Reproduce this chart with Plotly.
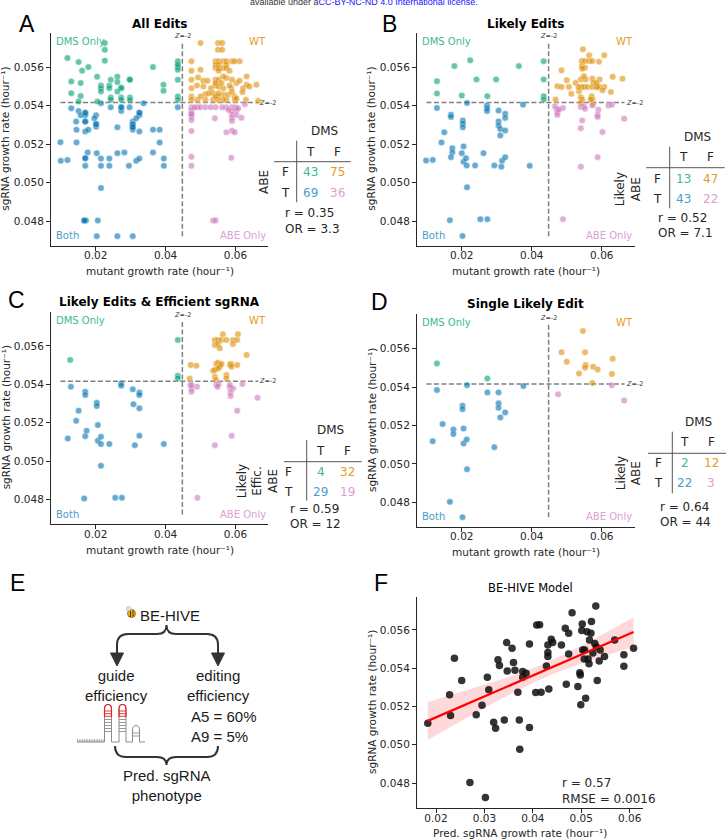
import numpy as np
import plotly.graph_objects as go

W, H = 726, 840

# seaborn "colorblind" colours
BLUE, ORANGE, GREEN, PINK = "#0173b2", "#de8f05", "#029e73", "#cc78bc"
BLUE_T, ORANGE_T, GREEN_T, PINK_T = "#4a9ccd", "#e59b26", "#3dba90", "#dba1d3"
INK = "#262626"
DJ = "DejaVu Sans"
LS = "Liberation Sans"

# ---- data, points are (mutant growth rate, sgRNA growth rate) ----
# A: all edits
a_dms = [(0.0226, 0.05725), (0.0226, 0.0569), (0.0119, 0.05647), (0.0151, 0.05626), (0.0226, 0.05633),
         (0.0179, 0.0560), (0.0161, 0.05581), (0.0364, 0.0560), (0.0435, 0.0563), (0.0435, 0.0560),
         (0.0435, 0.05586), (0.0204, 0.0555), (0.0130, 0.05525), (0.0157, 0.05517), (0.0243, 0.05534),
         (0.0262, 0.0555), (0.0262, 0.05522), (0.0297, 0.05536), (0.0298, 0.05534), (0.0215, 0.05504),
         (0.0215, 0.0549), (0.0239, 0.05504), (0.0273, 0.05494), (0.0273, 0.0549), (0.0130, 0.05464),
         (0.0157, 0.0545), (0.0215, 0.05473), (0.0262, 0.05473), (0.0243, 0.05442), (0.0273, 0.05442),
         (0.0298, 0.05442), (0.0243, 0.0543), (0.0273, 0.0543), (0.0298, 0.05428), (0.0394, 0.05508),
         (0.0394, 0.05477), (0.0435, 0.05534), (0.0435, 0.05447), (0.0435, 0.0543), (0.0151, 0.05421),
         (0.0239, 0.0549), (0.0205, 0.05421), (0.0435, 0.05612)]
a_both = [(0.0130, 0.05386), (0.0151, 0.05372), (0.0170, 0.05363), (0.0170, 0.0535), (0.0201, 0.0535),
          (0.0157, 0.0535), (0.0144, 0.05317), (0.0170, 0.05317), (0.0201, 0.05304), (0.0201, 0.0529),
          (0.0262, 0.05287), (0.0306, 0.05317), (0.0306, 0.05303), (0.0306, 0.05289), (0.0306, 0.05275),
          (0.0325, 0.05363), (0.0325, 0.0535), (0.0316, 0.05334), (0.0337, 0.05412), (0.0297, 0.05391),
          (0.0273, 0.05391), (0.0273, 0.05372), (0.0243, 0.05391), (0.0215, 0.05412), (0.0196, 0.05334),
          (0.0145, 0.05275), (0.0170, 0.05266), (0.0179, 0.05275), (0.0325, 0.05266), (0.0364, 0.05275),
          (0.0383, 0.05275), (0.0099, 0.0521), (0.0145, 0.05209), (0.0383, 0.05209), (0.0177, 0.05157),
          (0.0203, 0.05153), (0.0262, 0.05153), (0.0282, 0.05157), (0.0364, 0.05157), (0.0100, 0.05113),
          (0.0119, 0.05117), (0.0170, 0.05127), (0.0170, 0.05087), (0.0215, 0.05125), (0.0239, 0.05125),
          (0.0215, 0.05087), (0.0239, 0.05087), (0.0295, 0.05087), (0.0316, 0.05113), (0.0325, 0.05125),
          (0.0395, 0.05125), (0.0395, 0.05087), (0.0215, 0.04972), (0.0167, 0.04803), (0.0172, 0.04803),
          (0.0206, 0.04803), (0.0203, 0.04722), (0.0262, 0.04722), (0.0306, 0.04722), (0.0435, 0.05391),
          (0.0170, 0.05363), (0.0170, 0.05317), (0.0201, 0.05304), (0.0306, 0.05303), (0.0306, 0.05289),
          (0.0325, 0.05363), (0.0170, 0.05127), (0.0167, 0.04803), (0.0273, 0.05391)]
a_wt = [(0.0500, 0.05725), (0.0550, 0.05725), (0.0562, 0.05725), (0.0550, 0.0569), (0.0562, 0.0569),
        (0.0474, 0.0563), (0.0543, 0.0563), (0.0552, 0.0563), (0.0565, 0.0563), (0.0574, 0.0563),
        (0.0590, 0.0563), (0.0612, 0.0563), (0.0543, 0.05612), (0.0552, 0.05612), (0.0574, 0.05612),
        (0.0543, 0.05595), (0.0552, 0.05595), (0.0565, 0.05595), (0.0574, 0.05595), (0.0474, 0.05581),
        (0.0500, 0.05586), (0.0493, 0.05546), (0.0574, 0.05543), (0.0632, 0.05551), (0.0474, 0.05534),
        (0.0508, 0.05529), (0.0520, 0.05529), (0.0543, 0.05534), (0.0552, 0.05534), (0.0543, 0.05504),
        (0.0552, 0.05499), (0.0565, 0.0549), (0.0588, 0.0549), (0.0603, 0.05517), (0.0622, 0.0549),
        (0.0632, 0.05508), (0.0660, 0.05508), (0.0474, 0.0549), (0.0514, 0.05459), (0.0536, 0.05464),
        (0.0550, 0.05447), (0.0566, 0.05456), (0.0579, 0.05456), (0.0598, 0.05447), (0.0474, 0.05447),
        (0.0474, 0.0543), (0.0491, 0.0543), (0.0514, 0.0543), (0.0536, 0.0543), (0.0550, 0.0543),
        (0.0574, 0.0543), (0.0598, 0.0543), (0.0665, 0.05424), (0.0552, 0.05581), (0.0565, 0.05551),
        (0.0543, 0.05517), (0.0560, 0.05517), (0.0590, 0.05534), (0.0612, 0.05529), (0.0583, 0.05504),
        (0.0530, 0.0549), (0.0508, 0.05499), (0.0490, 0.05504), (0.0524, 0.05464), (0.0543, 0.05447),
        (0.0590, 0.0547), (0.0620, 0.0547), (0.0640, 0.05499), (0.0565, 0.0543), (0.0603, 0.05436),
        (0.0630, 0.0543), (0.0583, 0.05581), (0.0598, 0.0563), (0.0500, 0.05447), (0.0552, 0.05464)]
a_abe = [(0.0474, 0.05391), (0.0474, 0.05377), (0.0474, 0.0536), (0.0474, 0.05343), (0.0474, 0.05325),
         (0.0491, 0.05391), (0.0500, 0.05391), (0.0514, 0.05391), (0.0543, 0.05391), (0.0574, 0.05391),
         (0.0590, 0.05391), (0.0600, 0.05391), (0.0627, 0.05407), (0.0590, 0.05372), (0.0590, 0.05355),
         (0.0590, 0.05337), (0.0603, 0.05377), (0.0603, 0.05351), (0.0617, 0.05337), (0.0541, 0.05334),
         (0.0574, 0.05261), (0.0590, 0.0527), (0.0598, 0.05261), (0.0474, 0.05268), (0.0474, 0.05134),
         (0.0474, 0.05087), (0.0588, 0.05129), (0.0536, 0.04803), (0.0543, 0.04803), (0.0562, 0.05391),
         (0.0483, 0.05391), (0.0529, 0.05391), (0.0608, 0.05386), (0.0580, 0.05377), (0.0590, 0.0532),
         (0.0474, 0.05355)]

# B: likely edits
b_dms = [(0.0129, 0.05527), (0.0129, 0.05463), (0.0179, 0.05605), (0.0200, 0.05452), (0.0224, 0.05635),
         (0.0242, 0.05536), (0.0298, 0.05536), (0.0273, 0.05449), (0.0363, 0.05605), (0.0434, 0.0563),
         (0.0434, 0.05536), (0.0434, 0.05449), (0.0434, 0.05431)]
b_both = [(0.0129, 0.05388), (0.0169, 0.05353), (0.0169, 0.05341), (0.0150, 0.05261), (0.0142, 0.05209),
          (0.0173, 0.05179), (0.0173, 0.05157), (0.0169, 0.05132), (0.0098, 0.05115), (0.0117, 0.05118),
          (0.0203, 0.05322), (0.0203, 0.05306), (0.0203, 0.05287), (0.0215, 0.05414), (0.0205, 0.05188),
          (0.0200, 0.05153), (0.0205, 0.05108), (0.0212, 0.05127), (0.0214, 0.05089), (0.0238, 0.05089),
          (0.0215, 0.04976), (0.0166, 0.04805), (0.0253, 0.0481), (0.0273, 0.0481), (0.0202, 0.04723),
          (0.0262, 0.05153), (0.0272, 0.054), (0.0272, 0.05386), (0.0272, 0.05372), (0.0305, 0.05374),
          (0.0305, 0.05318), (0.0305, 0.05296), (0.0310, 0.05278), (0.0310, 0.05245), (0.0324, 0.05357),
          (0.0324, 0.05336), (0.0324, 0.05271), (0.0315, 0.05113), (0.0313, 0.05083), (0.0324, 0.05132),
          (0.0293, 0.05089), (0.0394, 0.05087), (0.0375, 0.05405)]
b_wt = [(0.0546, 0.05692), (0.0564, 0.05661), (0.0607, 0.05661), (0.0543, 0.05631), (0.0552, 0.05631),
        (0.0564, 0.05631), (0.0573, 0.05631), (0.0592, 0.05628), (0.0543, 0.05605), (0.0552, 0.05597),
        (0.0544, 0.05591), (0.0485, 0.05583), (0.0500, 0.05532), (0.0540, 0.05536), (0.0573, 0.0554),
        (0.0576, 0.05518), (0.0594, 0.05536), (0.0631, 0.0555), (0.0659, 0.0554), (0.0473, 0.05501),
        (0.0485, 0.05497), (0.0513, 0.05461), (0.0535, 0.05475), (0.0542, 0.05497), (0.0549, 0.05497),
        (0.0559, 0.05497), (0.0573, 0.05497), (0.0583, 0.05497), (0.0586, 0.05497), (0.0607, 0.05497),
        (0.0468, 0.05431), (0.0540, 0.05443), (0.0544, 0.05431), (0.0571, 0.05449), (0.0573, 0.05431),
        (0.0626, 0.0547), (0.0540, 0.05414), (0.0575, 0.0541), (0.0592, 0.05497), (0.0525, 0.05518),
        (0.0506, 0.05497), (0.0554, 0.05536), (0.0549, 0.05553), (0.0585, 0.05518), (0.0568, 0.05431),
        (0.0602, 0.0548), (0.0533, 0.05497)]
b_abe = [(0.0466, 0.05397), (0.0471, 0.05383), (0.0473, 0.05365), (0.0473, 0.05351), (0.0489, 0.05388),
         (0.0540, 0.05393), (0.0549, 0.05397), (0.0573, 0.054), (0.0590, 0.05379), (0.0588, 0.05353),
         (0.0588, 0.05341), (0.0619, 0.054), (0.0629, 0.05405), (0.0544, 0.05323), (0.0540, 0.05283),
         (0.0602, 0.05263), (0.0588, 0.05132), (0.0540, 0.05083), (0.0664, 0.05332), (0.0489, 0.0481),
         (0.0478, 0.05379), (0.0552, 0.05383)]

# C: likely edits & efficient sgRNA
c_dms = [(0.0127, 0.05527), (0.0435, 0.05631), (0.0435, 0.05445), (0.0435, 0.05431)]
c_both = [(0.0129, 0.05388), (0.0170, 0.05362), (0.0170, 0.05344), (0.0203, 0.05304), (0.0203, 0.05287),
          (0.0151, 0.05263), (0.0144, 0.0521), (0.0174, 0.05158), (0.0170, 0.0513), (0.0120, 0.05118),
          (0.0206, 0.05188), (0.0206, 0.05106), (0.0215, 0.05127), (0.0215, 0.05089), (0.0239, 0.05089),
          (0.0215, 0.04976), (0.0167, 0.04805), (0.0256, 0.04809), (0.0275, 0.04809), (0.0273, 0.05405),
          (0.0273, 0.05393), (0.0306, 0.05374), (0.0308, 0.05296), (0.0325, 0.05357), (0.0325, 0.05344),
          (0.0325, 0.05275), (0.0325, 0.05132), (0.0312, 0.05083), (0.0395, 0.05089)]
c_wt = [(0.0564, 0.05661), (0.0607, 0.05661), (0.0541, 0.05631), (0.0550, 0.05631), (0.0560, 0.05631),
        (0.0574, 0.05631), (0.0593, 0.05631), (0.0605, 0.05631), (0.0541, 0.05605), (0.0550, 0.0561),
        (0.0555, 0.05588), (0.0632, 0.05553), (0.0472, 0.05501), (0.0488, 0.05497), (0.0536, 0.05471),
        (0.0545, 0.05506), (0.0550, 0.05513), (0.0555, 0.05501), (0.0584, 0.05501), (0.0587, 0.05506),
        (0.0605, 0.05501), (0.0541, 0.0544), (0.0544, 0.05423), (0.0574, 0.05449), (0.0574, 0.05431),
        (0.0469, 0.05431), (0.0555, 0.05492), (0.0560, 0.05506), (0.0593, 0.0561), (0.0541, 0.05475),
        (0.0550, 0.05483), (0.0589, 0.05492)]
c_abe = [(0.0471, 0.05397), (0.0474, 0.05379), (0.0474, 0.05362), (0.0490, 0.05388), (0.0545, 0.05397),
         (0.0552, 0.05402), (0.0584, 0.05384), (0.0593, 0.05379), (0.0586, 0.05358), (0.0586, 0.05339),
         (0.0620, 0.05402), (0.0663, 0.0533), (0.0605, 0.05263), (0.0589, 0.05132), (0.0541, 0.05083),
         (0.0491, 0.04809), (0.0474, 0.05397), (0.0549, 0.05388), (0.0584, 0.05397)]

# D: single likely edit
d_dms = [(0.0129, 0.05523), (0.0273, 0.05445)]
d_both = [(0.0129, 0.05384), (0.0117, 0.05118), (0.0145, 0.05207), (0.0176, 0.05179), (0.0176, 0.05155),
          (0.0166, 0.04802), (0.0202, 0.05303), (0.0202, 0.05285), (0.0205, 0.05184), (0.0205, 0.05106),
          (0.0214, 0.05127), (0.0215, 0.0541), (0.0215, 0.04972), (0.0202, 0.04722), (0.0273, 0.05372),
          (0.0293, 0.05087), (0.0305, 0.05372), (0.0305, 0.05315), (0.0305, 0.05292), (0.0310, 0.05242),
          (0.0324, 0.05268), (0.0376, 0.05405)]
d_wt = [(0.0546, 0.05692), (0.0485, 0.05581), (0.0552, 0.05581), (0.0500, 0.05532), (0.0554, 0.05515),
        (0.0552, 0.05501), (0.0575, 0.05506), (0.0588, 0.05492), (0.0535, 0.05471), (0.0631, 0.05548),
        (0.0629, 0.05468), (0.0573, 0.05421)]
d_abe = [(0.0475, 0.05362), (0.0629, 0.05409), (0.0664, 0.0533)]

# contingency counts [DMS-only, WT, both, ABE-only] and stats (r, OR)
counts = {"A": [43, 75, 69, 36], "B": [13, 47, 43, 22], "C": [4, 32, 29, 19], "D": [2, 12, 22, 3]}
stats = {"A": (0.35, 3.3), "B": (0.52, 7.1), "C": (0.59, 12), "D": (0.64, 44)}

z_x = 0.0448   # Z = -2 threshold, mutant growth rate
z_y = 0.05416  # Z = -2 threshold, sgRNA growth rate

# F: BE-HIVE model
f_pred = [0.0183, 0.0228, 0.0230, 0.0238, 0.0253, 0.0270, 0.0283, 0.0295, 0.0302, 0.0306,
          0.0309, 0.0319, 0.0323, 0.0328, 0.0331, 0.0341, 0.0346, 0.0347, 0.0357, 0.0360,
          0.0363, 0.0369, 0.0372, 0.0373, 0.0379, 0.0379, 0.0386, 0.0393, 0.0393, 0.0406,
          0.0408, 0.0414, 0.0417, 0.0428, 0.0431, 0.0431, 0.0431, 0.0433, 0.0438, 0.0441,
          0.0459, 0.0467, 0.0469, 0.0474, 0.0474, 0.0481, 0.0493, 0.0497, 0.0498, 0.0499,
          0.0501, 0.0502, 0.0503, 0.0506, 0.0507, 0.0509, 0.0512, 0.0514, 0.0516, 0.0517,
          0.0520, 0.0521, 0.0524, 0.0528, 0.0530, 0.0531, 0.0533, 0.0537, 0.0539, 0.0548,
          0.0569, 0.0588, 0.0588, 0.0608]
f_obs = [0.05113, 0.05261, 0.05153, 0.05452, 0.05336, 0.04803, 0.05157, 0.05207, 0.04725, 0.05353,
         0.05287, 0.05118, 0.05087, 0.05445, 0.05414, 0.0513, 0.05534, 0.05386, 0.05504, 0.0543,
         0.0539, 0.05275, 0.05129, 0.04976, 0.05383, 0.05353, 0.05374, 0.05527, 0.0509, 0.05273,
         0.05626, 0.05628, 0.05275, 0.05412, 0.05522, 0.05482, 0.05461, 0.05292, 0.05551, 0.05534,
         0.05522, 0.05609, 0.05317, 0.05583, 0.05475, 0.0569, 0.05304, 0.05377, 0.05365, 0.05209,
         0.05597, 0.05631, 0.05496, 0.05449, 0.05496, 0.05243, 0.05591, 0.05449, 0.05423, 0.05548,
         0.05583, 0.05645, 0.0548, 0.0553, 0.05725, 0.05513, 0.05336, 0.05438, 0.05496, 0.05461,
         0.05548, 0.0547, 0.0541, 0.05504]
f_stats = (0.57, 0.0016)


def dom(x0, x1, y0, y1):
    # pixel box -> paper domains
    return [x0 / W, x1 / W], [1 - y1 / H, 1 - y0 / H]


def sfx(i):
    return "" if i == 1 else str(i)


fig = go.Figure()
ann = []
shp = []


def txt(x, y, s, size=12, color=INK, xa="center", ya="middle", fam=DJ, angle=0, align="center"):
    ann.append(dict(x=x, y=y, xref="x6", yref="y6", text=s, showarrow=False, xanchor=xa, yanchor=ya,
                    font=dict(family=fam, size=size, color=color), textangle=angle, align=align))


def seg(x0, y0, x1, y1, color="#555555", width=1):
    shp.append(dict(type="line", x0=x0, y0=y0, x1=x1, y1=y1, xref="x6", yref="y6",
                    line=dict(color=color, width=width)))


def path(p, color="#333333", width=1, fill=None):
    shp.append(dict(type="path", path=p, xref="x6", yref="y6", line=dict(color=color, width=width),
                    fillcolor=fill if fill else "rgba(0,0,0,0)"))


axstyle = dict(showline=True, linecolor=INK, linewidth=1, ticks="outside", ticklen=4, tickwidth=1,
               tickcolor=INK, tickfont=dict(family=DJ, size=10.5, color=INK), showgrid=False,
               zeroline=False, mirror=False, fixedrange=True)
xstyle = dict(axstyle, ticklabelstandoff=-4)

all_a = a_dms + a_both + a_wt + a_abe
lx0, lx1 = min(p[0] for p in all_a), max(p[0] for p in all_a)
ly0, ly1 = min(p[1] for p in all_a), max(p[1] for p in all_a)

panels = [
    dict(k="A", i=1, box=(51, 268.3, 32.6, 245.8), title="<b>All Edits</b>", tpos=(159.3, 24),
         groups=[(a_both, BLUE), (a_dms, GREEN), (a_wt, ORANGE), (a_abe, PINK)], let=(26.7, 24)),
    dict(k="B", i=2, box=(417, 634.7, 32.6, 245.8), title="<b>Likely Edits</b>", tpos=(525.7, 24),
         groups=[(b_both, BLUE), (b_dms, GREEN), (b_wt, ORANGE), (b_abe, PINK)], let=(389.7, 24)),
    dict(k="C", i=3, box=(51, 268.3, 311.6, 524.1), title="<b>Likely Edits &amp; Efficient sgRNA</b>",
         tpos=(159.3, 301.7), groups=[(c_both, BLUE), (c_dms, GREEN), (c_wt, ORANGE), (c_abe, PINK)],
         let=(16, 300)),
    dict(k="D", i=4, box=(417, 634.7, 314.3, 526.8), title="<b>Single Likely Edit</b>", tpos=(525.7, 304),
         groups=[(d_both, BLUE), (d_dms, GREEN), (d_wt, ORANGE), (d_abe, PINK)], let=(379.7, 301.7)),
]

for p in panels:
    n = sfx(p["i"])
    xd, yd = dom(*p["box"])
    fig.layout[f"xaxis{n}"] = dict(xstyle, domain=xd, anchor=f"y{n}", range=[0.0072, 0.0694],
                                   tickvals=[0.02, 0.04, 0.06], tickformat=".2f")
    fig.layout[f"yaxis{n}"] = dict(axstyle, domain=yd, anchor=f"x{n}", range=[0.04672, 0.05779],
                                   tickvals=[0.048, 0.050, 0.052, 0.054, 0.056], tickformat=".3f")
    # Z = -2 threshold lines
    dash = dict(color="#7f7f7f", width=1.5, dash="5px,2.5px")
    fig.add_trace(go.Scatter(x=[lx0, lx1], y=[z_y, z_y], mode="lines", line=dash, xaxis=f"x{n}",
                             yaxis=f"y{n}", showlegend=False, hoverinfo="skip"))
    fig.add_trace(go.Scatter(x=[z_x, z_x], y=[ly0, ly1], mode="lines", line=dash, xaxis=f"x{n}",
                             yaxis=f"y{n}", showlegend=False, hoverinfo="skip"))
    for pts, col in p["groups"]:
        fig.add_trace(go.Scatter(x=[q[0] for q in pts], y=[q[1] for q in pts], mode="markers",
                                 marker=dict(size=6.5, color=col, opacity=0.6,
                                             line=dict(color="white", width=0.5)),
                                 xaxis=f"x{n}", yaxis=f"y{n}", showlegend=False))
    zf = dict(family=DJ, size=6.5, color="#333333")
    ann.append(dict(x=z_x, y=ly1, xref=f"x{n}", yref=f"y{n}", text="<i>Z</i>=-2", showarrow=False,
                    xanchor="center", yanchor="bottom", yshift=1, font=zf))
    ann.append(dict(x=lx1, y=z_y, xref=f"x{n}", yref=f"y{n}", text="<i>Z</i>=-2", showarrow=False,
                    xanchor="left", yanchor="middle", xshift=-1, font=zf))
    # quadrant labels
    for s, col, qx, qy, xa, ya in [("DMS Only", GREEN_T, 0.015, 0.995, "left", "top"),
                                    ("WT", ORANGE_T, 1.0, 0.995, "right", "top"),
                                    ("Both", BLUE_T, 0.015, 0.012, "left", "bottom"),
                                    ("ABE Only", PINK_T, 0.998, 0.012, "right", "bottom")]:
        ann.append(dict(x=qx, y=qy, xref=f"x{n} domain", yref=f"y{n} domain", text=s, showarrow=False,
                        xanchor=xa, yanchor=ya, font=dict(family=DJ, size=10, color=col)))
    txt(p["tpos"][0], p["tpos"][1], p["title"], size=12, color="black")
    txt(p["let"][0], p["let"][1], p["k"], size=23, color="black", fam=LS)
    x0, x1, y0, y1 = p["box"]
    txt((x0 + x1) / 2, y1 + 25.5, "mutant growth rate (hour⁻¹)", size=10.5)
    txt(x0 - 45.5, (y0 + y1) / 2, "sgRNA growth rate (hour⁻¹)", size=10.5, angle=-90)

# contingency tables (pixel positions)
tables = {
    "A": dict(hl=(274, 350.7, 161.7), vl=(296.7, 140.7, 202.3), dms=(324, 130.7), cols=(310, 337.3, 151.7),
              rows=(285, 172.3, 192.7), st=(282.7, 213.3, 228.7), rot=(263.3, 181.7, "ABE")),
    "B": dict(hl=(646.3, 724.7, 167.7), vl=(669.7, 146.7, 208.3), dms=(697, 136.7), cols=(683.7, 710.3, 157.3),
              rows=(657, 179, 199.3), st=(656.3, 218.3, 233.3), rot=(628.3, 189, "Likely<br>ABE")),
    "C": dict(hl=(284, 361.7, 461.7), vl=(306.7, 440, 500.7), dms=(330.7, 430), cols=(320.7, 347.3, 450.7),
              rows=(288.3, 471.7, 492.3), st=(288.3, 509, 524.3), rot=(257.5, 481.7, "Likely<br>Effic.<br>ABE")),
    "D": dict(hl=(648, 726.3, 453.3), vl=(672.3, 431.7, 493.3), dms=(698, 421.7), cols=(684.7, 711.3, 442.3),
              rows=(658, 463.3, 483.3), st=(658, 506.7, 522.3), rot=(629, 473.3, "Likely<br>ABE")),
}
for k, t in tables.items():
    seg(t["hl"][0], t["hl"][2], t["hl"][1], t["hl"][2])
    seg(t["vl"][0], t["vl"][1], t["vl"][0], t["vl"][2])
    txt(t["dms"][0], t["dms"][1], "DMS")
    cT, cF, cy = t["cols"]
    txt(cT, cy, "T")
    txt(cF, cy, "F")
    rx, rF, rT = t["rows"]
    txt(rx, rF, "F")
    txt(rx, rT, "T")
    c = counts[k]
    txt(cT, rF, str(c[0]), color=GREEN_T)
    txt(cF, rF, str(c[1]), color=ORANGE_T)
    txt(cT, rT, str(c[2]), color=BLUE_T)
    txt(cF, rT, str(c[3]), color=PINK_T)
    r, orv = stats[k]
    txt(t["st"][0], t["st"][1], f"r = {r:.2f}", xa="left")
    txt(t["st"][0], t["st"][2], f"OR = {orv:g}", xa="left")
    txt(t["rot"][0], t["rot"][1], t["rot"][2], angle=-90)

# ---- F: BE-HIVE model regression ----
xd, yd = dom(417, 643, 596.7, 808.3)
fig.layout["xaxis5"] = dict(xstyle, domain=xd, anchor="y5", range=[0.01607, 0.06275],
                            tickvals=[0.02, 0.03, 0.04, 0.05, 0.06], tickformat=".2f")
fig.layout["yaxis5"] = dict(axstyle, domain=yd, anchor="x5", range=[0.04668, 0.05774],
                            tickvals=[0.048, 0.050, 0.052, 0.054, 0.056], tickformat=".3f")
fx = np.array(f_pred)
fy = np.array(f_obs)
b1, b0 = np.polyfit(fx, fy, 1)
xl = np.linspace(fx.min(), fx.max(), 100)
yl = b0 + b1 * xl
res = fy - (b0 + b1 * fx)
s = np.sqrt((res ** 2).sum() / (len(fx) - 2))
se = s * np.sqrt(1 / len(fx) + (xl - fx.mean()) ** 2 / ((fx - fx.mean()) ** 2).sum())
fig.add_trace(go.Scatter(x=xl, y=yl + 1.99 * se, mode="lines", line=dict(width=0), xaxis="x5", yaxis="y5",
                         showlegend=False, hoverinfo="skip"))
fig.add_trace(go.Scatter(x=xl, y=yl - 1.99 * se, mode="lines", line=dict(width=0), fill="tonexty",
                         fillcolor="rgba(255,0,0,0.15)", xaxis="x5", yaxis="y5", showlegend=False,
                         hoverinfo="skip"))
fig.add_trace(go.Scatter(x=fx, y=fy, mode="markers", marker=dict(size=7.5, color="#111111", opacity=0.85),
                         xaxis="x5", yaxis="y5", showlegend=False))
fig.add_trace(go.Scatter(x=xl, y=yl, mode="lines", line=dict(color="#ff0000", width=2.2), xaxis="x5",
                         yaxis="y5", showlegend=False, hoverinfo="skip"))
txt(530, 588, "BE-HIVE Model", size=11.5, color="black")
txt(381, 583, "F", size=23, color="black", fam=LS)
txt(520, 833, "Pred. sgRNA growth rate (hour⁻¹)", size=10.5)
txt(371.5, 702.5, "sgRNA growth rate (hour⁻¹)", size=10.5, angle=-90)
txt(559.7, 783.3, f"r = {f_stats[0]:.2f}", xa="left")
txt(559.7, 799.3, f"RMSE = {f_stats[1]:.4f}", xa="left")

# ---- E: BE-HIVE schematic ----
txt(17, 583, "E", size=23, color="black", fam=LS)
txt(138, 615, "BE-HIVE", size=15, color="#1a1a1a", fam=LS, xa="left")
shp.append(dict(type="circle", x0=127.5, y0=609.5, x1=135.5, y1=617.5, xref="x6", yref="y6",
                fillcolor="#f2b31a", line=dict(color="#8a5a00", width=0.8)))
shp.append(dict(type="circle", x0=126.5, y0=606.5, x1=131, y1=611, xref="x6", yref="y6",
                fillcolor="#dde4ea", line=dict(color="#9aa3aa", width=0.5)))
seg(130.5, 611, 130.5, 617, color="#4a3000", width=1)
seg(133, 610.5, 133, 616.5, color="#4a3000", width=1)
path("M 117,653 L 117,645 Q 117,634 128,634 L 157,634 Q 166.5,634 166.5,625 "
     "Q 166.5,634 176,634 L 207,634 Q 218,634 218,645 L 218,653", width=2)
path("M 110.5,653 L 123.5,653 L 117,666 Z", width=1, fill="#333333")
path("M 211.5,653 L 224.5,653 L 218,666 Z", width=1, fill="#333333")
path("M 115,746 Q 115,757 126,757 L 157,757 Q 166.5,757 166.5,765 "
     "Q 166.5,757 176,757 L 207,757 Q 218,757 218,746", width=2)
txt(116.7, 685, "guide<br>efficiency", size=15, color="#1a1a1a", fam=LS)
txt(218.3, 685.5, "editing<br>efficiency", size=15, color="#1a1a1a", fam=LS)
txt(189, 726, "A5 = 60%<br>A9 = 5%", size=15, color="#1a1a1a", fam=LS, xa="left", align="left")
txt(166.7, 785.5, "Pred. sgRNA<br>phenotype", size=15, color="#1a1a1a", fam=LS)

# sgRNA hairpin sketch
GR, RD = "#8c8c8c", "#e0262b"
seg(77, 742, 104.5, 742, color=GR)
comb = " ".join(f"M {x:.1f},742 L {x:.1f},739.3" for x in np.arange(77.5, 103.5, 1.7))
path(comb, color=GR, width=0.8)
for lx, top, red in [(104.5, 709, True), (119, 709, True), (132.5, 730, False)]:
    rx = lx + 7
    path(f"M {lx},742 L {lx},{top} Q {lx},{top - 4.5} {lx + 3.5},{top - 4.5} "
         f"Q {rx},{top - 4.5} {rx},{top} L {rx},742", color=GR, width=1)
    if red:
        path(f"M {lx},717 L {lx},{top} Q {lx},{top - 4.5} {lx + 3.5},{top - 4.5} "
             f"Q {rx},{top - 4.5} {rx},{top} L {rx},717", color=RD, width=1.2)
        for yy in (711, 713.7, 716.3):
            seg(lx, yy, rx, yy, color=RD, width=0.9)
        for yy in (719.5, 722.5, 725.5, 728.5, 731.5):
            seg(lx, yy, rx, yy, color=GR, width=0.9)
    else:
        for yy in (733, 736):
            seg(lx, yy, rx, yy, color=GR, width=0.9)
seg(111.5, 742, 119, 742, color=GR)
seg(126, 742, 132.5, 742, color=GR)
seg(139.5, 742, 145, 742, color=GR)

# cut-off preprint banner at the very top
txt(364, 1.5, 'available under a<span style="color:#1a0dff">CC-BY-NC-ND 4.0 International license.</span>',
    size=9, color="#333333", fam=LS)

# full-figure overlay axis in pixel units for annotations and drawings
fig.add_trace(go.Scatter(x=[None], y=[None], xaxis="x6", yaxis="y6", showlegend=False, hoverinfo="skip"))
fig.layout["xaxis6"] = dict(domain=[0, 1], range=[0, W], anchor="y6", visible=False, fixedrange=True)
fig.layout["yaxis6"] = dict(domain=[0, 1], range=[H, 0], anchor="x6", visible=False, fixedrange=True)

fig.update_layout(width=W, height=H, margin=dict(l=0, r=0, t=0, b=0), paper_bgcolor="white",
                  plot_bgcolor="rgba(0,0,0,0)", annotations=ann, shapes=shp, showlegend=False)
fig.write_html("out.html", config={"displayModeBar": False},
               post_script="document.body.style.margin='0px';")
